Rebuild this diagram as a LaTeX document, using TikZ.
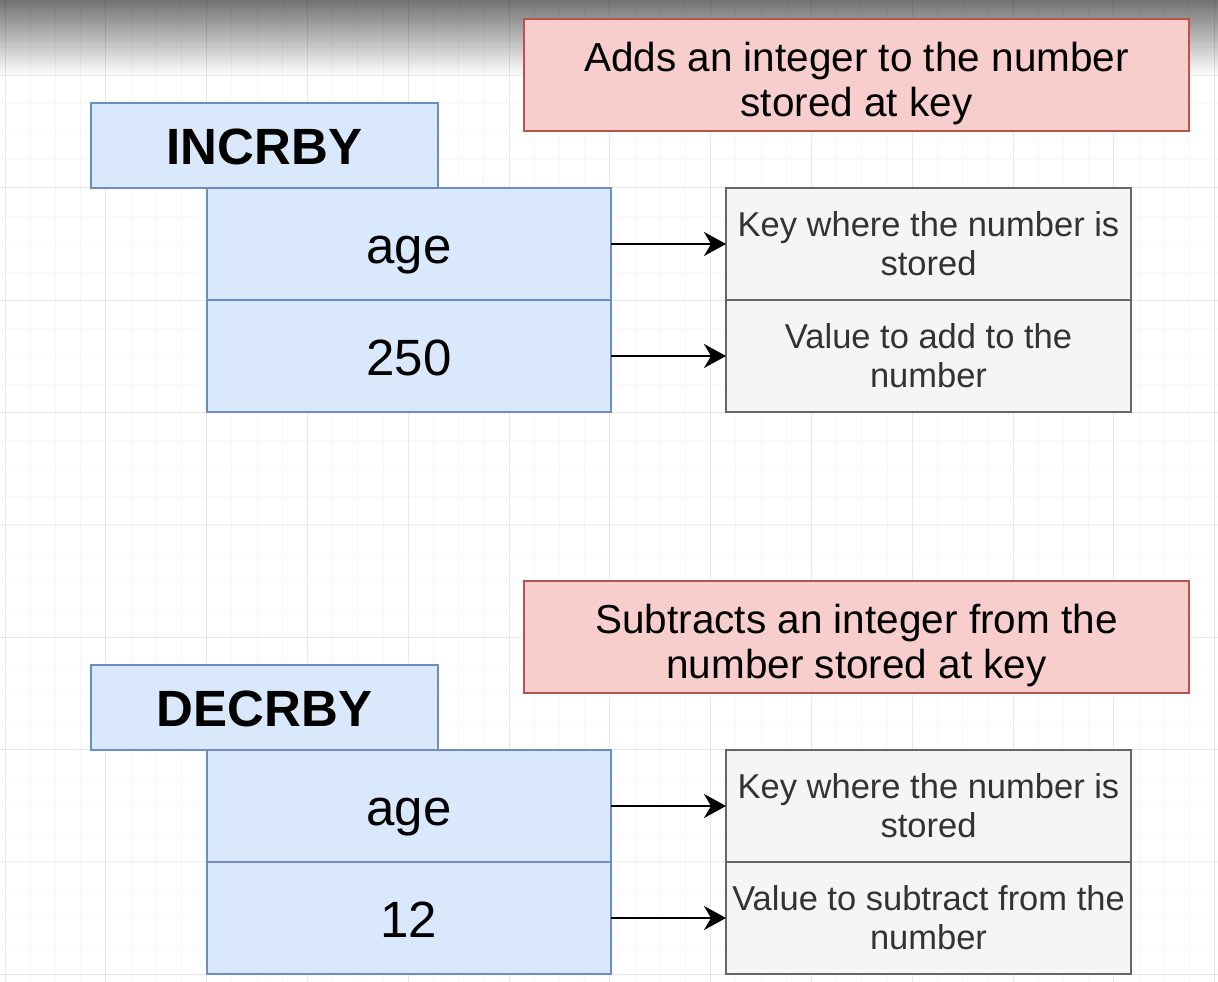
\documentclass[tikz,border=0pt]{standalone}
\usepackage{fontspec}
\setmainfont{Liberation Sans}
\usetikzlibrary{positioning}
\usetikzlibrary{arrows.meta}
\definecolor{paleblue}{HTML}{DAE8FC}
\definecolor{blueline}{HTML}{6C8EBF}
\definecolor{palered}{HTML}{F8CECC}
\definecolor{redline}{HTML}{B85450}
\definecolor{palegray}{HTML}{F5F5F5}
\definecolor{grayline}{HTML}{666666}
\definecolor{graytext}{HTML}{333333}
\tikzset{
cmd/.style = {rectangle, draw=blueline, fill=paleblue, line width=2pt, minimum width=347pt, minimum height=85pt, inner sep=0pt, outer sep=0pt, text height=48pt, text depth=10pt, font=\fontsize{51}{60}\selectfont\bfseries},
arg/.style = {rectangle, draw=blueline, fill=paleblue, line width=2pt, minimum width=404pt, minimum height=112pt, inner sep=0pt, outer sep=0pt, text height=48pt, text depth=10pt, font=\fontsize{51}{60}\selectfont},
desc/.style = {rectangle, draw=grayline, fill=palegray, text=graytext, line width=2pt, minimum width=405pt, minimum height=112pt, inner sep=0pt, outer sep=0pt, align=center, font=\fontsize{34.5}{39}\selectfont},
note/.style = {rectangle, draw=redline, fill=palered, line width=2pt, minimum width=665pt, minimum height=112pt, inner sep=0pt, outer sep=0pt, align=center, font=\fontsize{40.5}{45}\selectfont},
line/.style = {draw, line width=2.5pt, -{Stealth[length=22pt, width=24pt, inset=7pt]}},
gridmajor/.style = {draw=black, draw opacity=0.06, line width=1pt},
gridminor/.style = {draw=black, draw opacity=0.03, line width=0.8pt}
}
\newcommand{\notestrut}{\rule{0pt}{47pt}}

\begin{document}
\begin{tikzpicture}[x=1pt, y=-1pt]
    \useasboundingbox (0,0) rectangle (1218,982);
    \fill[white] (0,0) rectangle (1218,982);
    \shade[top color=black!55, middle color=black!20, bottom color=white] (0,0) rectangle (1218,76);
    % background grid
    \foreach \i in {0,...,48}
        \draw[gridminor] ({5+25.2*\i},0) -- ({5+25.2*\i},982);
    \foreach \j in {0,...,34}
        \draw[gridminor] (0,{19.3+28.09*\j}) -- (1218,{19.3+28.09*\j});
    \foreach \i in {0,...,12}
        \draw[gridmajor] ({5+100.8*\i},0) -- ({5+100.8*\i},982);
    \foreach \j in {0,...,8}
        \draw[gridmajor] (0,{75.5+112.35*\j}) -- (1218,{75.5+112.35*\j});

    % INCRBY
    \node [note] (incrnote) at (856.5,75) {\notestrut Adds an integer to the number\\stored at key};
    \node [arg] (incrkey) at (409,244) {age};
    \node [arg, below=0pt of incrkey] (incrval) {250};
    \node [cmd, anchor=south west] (incr) at ([xshift=-116pt]incrkey.north west) {INCRBY};
    \node [desc, right=115pt of incrkey] (incrkeyd) {Key where the number is\\stored};
    \node [desc, right=115pt of incrval] (incrvald) {Value to add to the\\number};

    % DECRBY
    \node [note] (decrnote) at (856.5,637) {\notestrut Subtracts an integer from the\\number stored at key};
    \node [arg] (decrkey) at (409,806) {age};
    \node [arg, below=0pt of decrkey] (decrval) {12};
    \node [cmd, anchor=south west] (decr) at ([xshift=-116pt]decrkey.north west) {DECRBY};
    \node [desc, right=115pt of decrkey] (decrkeyd) {Key where the number is\\stored};
    \node [desc, right=115pt of decrval] (decrvald) {Value to subtract from the\\number};

    \path [line] (incrkey) -- (incrkeyd);
    \path [line] (incrval) -- (incrvald);
    \path [line] (decrkey) -- (decrkeyd);
    \path [line] (decrval) -- (decrvald);
\end{tikzpicture}
\end{document}
